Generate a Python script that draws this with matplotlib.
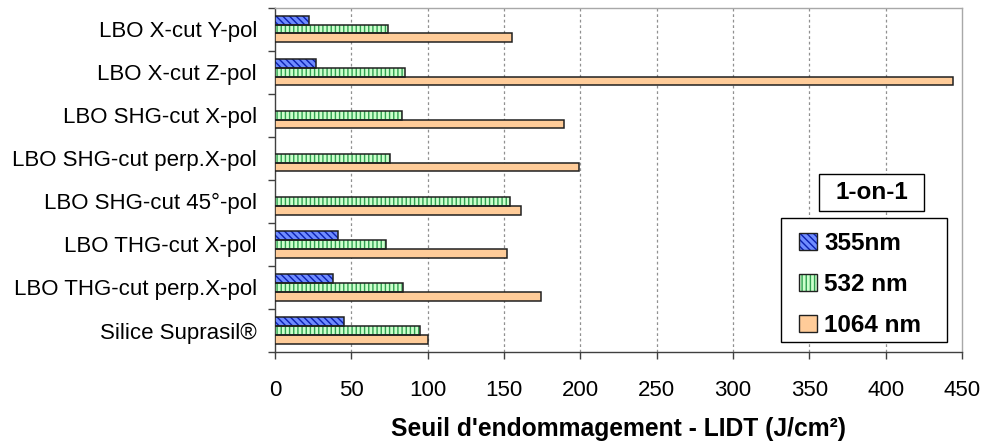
import matplotlib
matplotlib.use("Agg")
import matplotlib.pyplot as plt
import numpy as np
from matplotlib.patches import Patch, Rectangle
from matplotlib.legend_handler import HandlerTuple

categories = ["LBO X-cut Y-pol", "LBO X-cut Z-pol", "LBO SHG-cut X-pol",
              "LBO SHG-cut perp.X-pol", "LBO SHG-cut 45°-pol", "LBO THG-cut X-pol",
              "LBO THG-cut perp.X-pol", "Silice Suprasil®"]
series_names = ["355nm", "532 nm", "1064 nm"]
v355 = [22, 27, 0, 0, 0, 41, 38, 45]
v532 = [74, 85, 83, 75, 154, 73, 84, 95]
v1064 = [155, 444, 189, 199, 161, 152, 174, 100]
xticks = [0, 50, 100, 150, 200, 250, 300, 350, 400, 450]

plt.rcParams['font.family'] = ['Liberation Sans', 'DejaVu Sans']
plt.rcParams['hatch.linewidth'] = 1.0

W, H = 983, 445
fig = plt.figure(figsize=(W/100, H/100), dpi=100)
ax = fig.add_axes([275/W, 1-352/H, (962-275)/W, (352-7.5)/H])

faces = ["#6f8cff", "#ccffcc", "#ffcc99"]
hcols = ["#0a1fb0", "#2fa050", "#ffcc99"]
hatches = ["\\\\\\\\\\", "||||", None]
vals = [v355, v532, v1064]
y = np.arange(len(categories))
h = 0.205
offs = [-h, 0, h]

for s in range(3):
    vv = np.array(vals[s], dtype=float)
    mask = vv > 0
    ax.barh(y[mask] + offs[s], vv[mask], height=h, color=faces[s],
            edgecolor=hcols[s], hatch=hatches[s], linewidth=0, zorder=3)
    ax.barh(y[mask] + offs[s], vv[mask], height=h, fill=False,
            edgecolor="#202020", linewidth=1.1, zorder=4)

ax.set_ylim(len(categories) - 0.5, -0.5)
ax.set_xlim(0, 450)
ax.set_xticks(xticks)
ax.set_xticklabels([str(t) for t in xticks], fontsize=16)
ax.set_yticks(y)
ax.set_yticklabels(categories, fontsize=16)
ax.set_yticks(np.arange(-0.5, len(categories), 1), minor=True)
ax.tick_params(axis='y', which='major', length=0, pad=13)
ax.tick_params(axis='y', which='minor', length=5, width=1, color="#404040", direction='out')
ax.tick_params(axis='x', which='major', length=5, width=1, color="#404040", direction='out', pad=15)

for t in xticks[1:-1]:
    ax.axvline(t, color="#909090", linewidth=0.9, linestyle=(0, (2.2, 2.2)), zorder=1)

ax.spines['left'].set_color("#404040")
ax.spines['bottom'].set_color("#404040")
ax.spines['top'].set_color("#a8a8a8")
ax.spines['right'].set_color("#a8a8a8")
for sp in ax.spines.values():
    sp.set_linewidth(1.0)

ax.set_xlabel("Seuil d'endommagement - LIDT (J/cm²)", fontsize=17.7, fontweight='bold', labelpad=12)

# legend frame
fig.patches.append(Rectangle((781/W, 1-342/H), 166/W, 124/H, transform=fig.transFigure,
                             facecolor='white', edgecolor='black', linewidth=1.0, zorder=5))
handles = []
for s in range(3):
    p1 = Patch(facecolor=faces[s], edgecolor=hcols[s], hatch=hatches[s], linewidth=0)
    p2 = Patch(fill=False, edgecolor="#202020", linewidth=1.0)
    handles.append((p1, p2))
leg = fig.legend(handles, series_names, handler_map={tuple: HandlerTuple(ndivide=1)},
                 loc='upper left', bbox_to_anchor=(799/W, 1-232/H),
                 bbox_transform=fig.transFigure, borderaxespad=0, borderpad=0,
                 prop={'weight': 'bold', 'size': 17.5}, handlelength=0.74, handleheight=0.7,
                 handletextpad=0.3, labelspacing=0.75, frameon=False)
leg.set_zorder(6)

fig.patches.append(Rectangle((819/W, 1-211/H), 105/W, 37/H, transform=fig.transFigure,
                             facecolor='white', edgecolor='black', linewidth=1.0, zorder=5))
fig.text(871.5/W, 1-192.5/H, "1-on-1", ha='center', va='center', fontsize=17.5,
         fontweight='bold', zorder=6)

fig.savefig("out.png", dpi=100)
